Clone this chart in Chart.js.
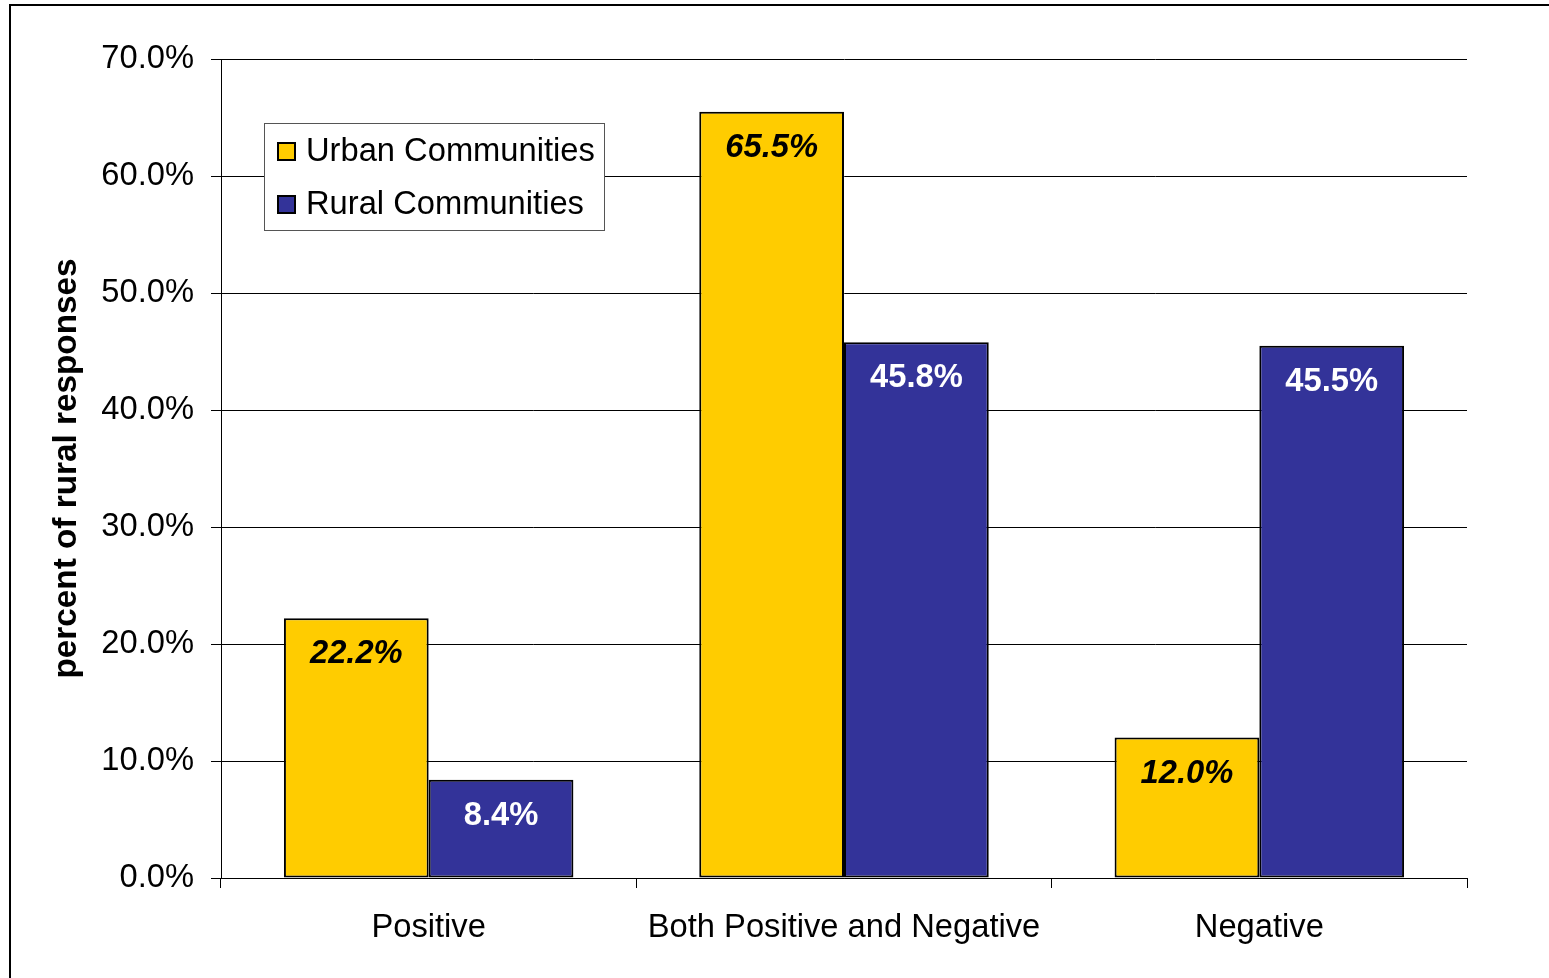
<!DOCTYPE html>
<html>
<head>
<meta charset="utf-8">
<script src="https://cdn.jsdelivr.net/npm/chart.js@4"></script>
<style>
  html, body { margin: 0; padding: 0; background: #fff; }
  #wrap { position: relative; width: 1549px; height: 978px; }
</style>
</head>
<body>
<div id="wrap"><canvas id="c"></canvas></div>
<script>
const categories = ['Positive', 'Both Positive and Negative', 'Negative'];
const urbanValues = [22.2, 65.5, 12.0];
const ruralValues = [8.4, 45.8, 45.5];
const seriesNames = ['Urban Communities', 'Rural Communities'];
const yTitle = 'percent of rural responses';

const FONT = "'Liberation Sans', Arial, sans-serif";
const FS = 32.7;

const framePlugin = {
  id: 'frame',
  beforeDraw(chart) {
    const ctx = chart.ctx;
    ctx.save();
    ctx.fillStyle = '#fff';
    ctx.fillRect(0, 0, chart.width, chart.height);
    ctx.strokeStyle = '#000';
    ctx.lineWidth = 2;
    ctx.beginPath();
    ctx.moveTo(10, chart.height + 2);
    ctx.lineTo(10, 5);
    ctx.lineTo(chart.width + 2, 5);
    ctx.stroke();
    ctx.restore();
  }
};

const labelPlugin = {
  id: 'barLabels',
  afterDatasetsDraw(chart) {
    const ctx = chart.ctx;
    ctx.save();
    ctx.textAlign = 'center';
    ctx.textBaseline = 'middle';
    chart.data.datasets.forEach((ds, di) => {
      const meta = chart.getDatasetMeta(di);
      meta.data.forEach((bar, i) => {
        const v = ds.data[i];
        ctx.font = (di === 0 ? 'italic bold ' : 'bold ') + FS + 'px ' + FONT;
        ctx.fillStyle = di === 0 ? '#000' : '#fff';
        ctx.fillText(v.toFixed(1) + '%', bar.x, bar.y + 36);
      });
    });
    ctx.restore();
  }
};

const legendPlugin = {
  id: 'boxLegend',
  afterDatasetsDraw(chart) {
    const ctx = chart.ctx;
    const x0 = 264.5, y0 = 123.5, w = 340, h = 107;
    ctx.save();
    ctx.fillStyle = '#fff';
    ctx.fillRect(x0, y0, w, h);
    ctx.strokeStyle = '#555';
    ctx.lineWidth = 1;
    ctx.strokeRect(x0, y0, w, h);
    ctx.font = FS + 'px ' + FONT;
    ctx.textBaseline = 'middle';
    ctx.textAlign = 'left';
    chart.data.datasets.forEach((ds, i) => {
      const cy = 152 + i * 53;
      ctx.fillStyle = ds.backgroundColor;
      ctx.fillRect(278, cy - 9, 17, 17);
      ctx.strokeStyle = '#000';
      ctx.lineWidth = 2;
      ctx.strokeRect(278, cy - 9, 17, 17);
      ctx.fillStyle = '#000';
      ctx.fillText(ds.label, 306, cy);
    });
    ctx.restore();
  }
};

new Chart(document.getElementById('c'), {
  type: 'bar',
  data: {
    labels: categories,
    datasets: [
      { label: seriesNames[0], data: urbanValues, backgroundColor: '#FFCC00', borderColor: '#000', borderWidth: 2, borderSkipped: false },
      { label: seriesNames[1], data: ruralValues, backgroundColor: '#333399', borderColor: '#000', borderWidth: 2, borderSkipped: false }
    ]
  },
  options: {
    responsive: true,
    maintainAspectRatio: false,
    animation: false,
    devicePixelRatio: 1,
    layout: { padding: { top: 59, right: 82, left: 0, bottom: 0 } },
    datasets: { bar: { categoryPercentage: 0.697, barPercentage: 1.0 } },
    plugins: {
      legend: { display: false },
      tooltip: { enabled: false }
    },
    scales: {
      x: {
        grid: { display: true, offset: true, drawOnChartArea: false, drawTicks: true, tickLength: 10, color: '#000', lineWidth: 1 },
        border: { display: true, color: '#000', width: 1 },
        ticks: { color: '#000', font: { family: FONT, size: FS }, padding: 20, maxRotation: 0 },
        afterFit(scale) { scale.height = 100; }
      },
      y: {
        min: 0, max: 70,
        grid: { color: '#000', lineWidth: 1, tickLength: 10, drawTicks: true },
        border: { display: true, color: '#000', width: 1 },
        ticks: {
          stepSize: 10, color: '#000', padding: 17,
          font: { family: FONT, size: FS },
          callback: v => v.toFixed(1) + '%'
        },
        title: {
          display: true, text: yTitle, color: '#000',
          font: { family: FONT, size: 33.3, weight: 'bold' },
          padding: { top: 47, bottom: 0 }
        },
        afterFit(scale) { scale.width = 221; }
      }
    }
  },
  plugins: [framePlugin, labelPlugin, legendPlugin]
});
</script>
</body>
</html>
